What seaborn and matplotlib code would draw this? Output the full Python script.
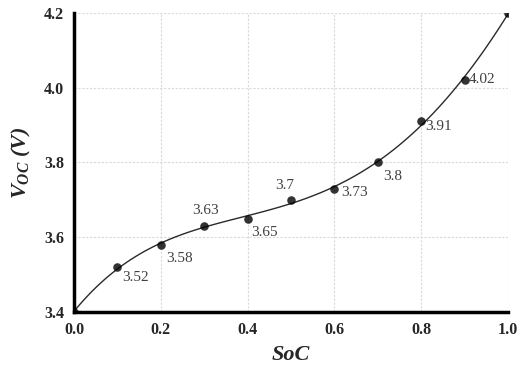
import matplotlib
matplotlib.use("Agg")
import matplotlib.pyplot as plt
import seaborn as sns
import pandas as pd

soc = [0.0, 0.1, 0.2, 0.3, 0.4, 0.5, 0.6, 0.7, 0.8, 0.9, 1.0]
voc = [3.40, 3.52, 3.58, 3.63, 3.65, 3.70, 3.73, 3.80, 3.91, 4.02, 4.20]
labels = ["", "3.52", "3.58", "3.63", "3.65", "3.7", "3.73", "3.8", "3.91", "4.02", ""]
# label placement (pixel offsets from each point, text anchor)
label_offsets = [(0, 0), (5, -10), (5, -14), (1, 16), (4, -14), (-6, 14), (7, -4), (5, -14), (4, -5), (4, 1)]
label_ha = ["left", "left", "left", "center", "left", "center", "left", "left", "left", "left", "left"]

xticks = [0.0, 0.2, 0.4, 0.6, 0.8, 1.0]
yticks = [3.4, 3.6, 3.8, 4.0, 4.2]

df = pd.DataFrame({"SoC": soc, "Voc": voc})

sns.set_style("white")
plt.rcParams["font.family"] = ["Liberation Serif", "DejaVu Serif"]
plt.rcParams["mathtext.fontset"] = "custom"
plt.rcParams["mathtext.it"] = "Liberation Serif:italic:bold"
plt.rcParams["mathtext.rm"] = "Liberation Serif:bold"
plt.rcParams["mathtext.bf"] = "Liberation Serif:bold"

fig = plt.figure(figsize=(5.23, 3.70), dpi=100)
ax = fig.add_axes([0.1415, 0.1568, 0.8298, 0.8081])

sns.regplot(data=df, x="SoC", y="Voc", order=4, ci=None, truncate=True,
            scatter_kws=dict(s=38, color="black", zorder=3, linewidths=0),
            line_kws=dict(color="#2a2a2a", lw=1.0, zorder=2), ax=ax)

for x, y, lab, off, ha in zip(soc, voc, labels, label_offsets, label_ha):
    if lab:
        ax.annotate(lab, (x, y), xytext=off, textcoords="offset pixels",
                    ha=ha, va="center", fontsize=11, color="#404040")

ax.set_xlim(0, 1.0)
ax.set_ylim(3.4, 4.2)
ax.set_xticks(xticks)
ax.set_yticks(yticks)
ax.set_xticklabels([f"{t:.1f}" for t in xticks], fontsize=11.5, fontweight="bold")
ax.set_yticklabels([f"{t:.1f}" for t in yticks], fontsize=11.5, fontweight="bold")
ax.tick_params(length=0, pad=7)

ax.grid(True, color="#d9d9d9", linestyle=(0, (2, 1.5)), linewidth=0.8)
ax.set_axisbelow(True)
for s in ["top", "right"]:
    ax.spines[s].set_visible(False)
for s in ["left", "bottom"]:
    ax.spines[s].set_color("black")
    ax.spines[s].set_linewidth(2.5)

ax.set_xlabel("SoC", fontsize=16, fontweight="bold", fontstyle="italic", labelpad=5)
ax.set_ylabel(r"$V_{OC}$ (V)", fontsize=16,
              fontweight="bold", fontstyle="italic", labelpad=8)

fig.savefig("out.png", dpi=100)
